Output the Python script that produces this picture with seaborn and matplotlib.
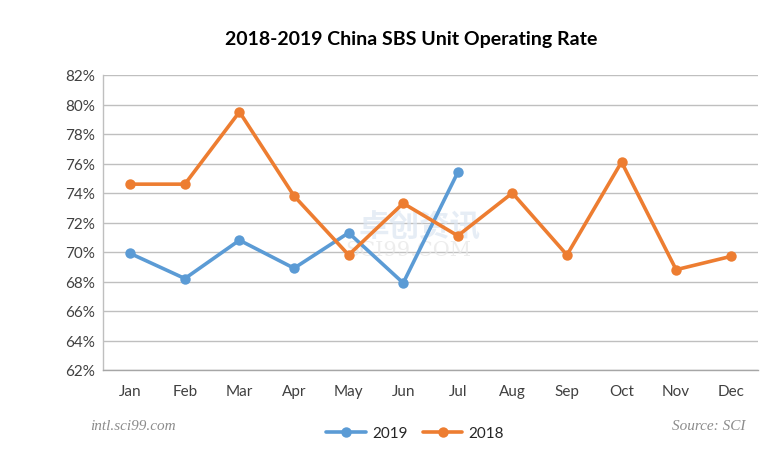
import matplotlib
matplotlib.use("Agg")
import matplotlib.pyplot as plt
import seaborn as sns
import pandas as pd
import numpy as np
from matplotlib.ticker import FuncFormatter
from matplotlib.lines import Line2D

months = ["Jan", "Feb", "Mar", "Apr", "May", "Jun", "Jul", "Aug", "Sep", "Oct", "Nov", "Dec"]
rate_2019 = [69.9, 68.2, 70.8, 68.9, 71.3, 67.9, 75.4]
rate_2018 = [74.6, 74.6, 79.5, 73.8, 69.8, 73.3, 71.1, 74.0, 69.8, 76.1, 68.8, 69.7]
y_ticks = [62, 64, 66, 68, 70, 72, 74, 76, 78, 80, 82]

rows = []
for i, v in enumerate(rate_2019):
    rows.append({"month": months[i], "idx": i, "rate": v, "year": "2019"})
for i, v in enumerate(rate_2018):
    rows.append({"month": months[i], "idx": i, "rate": v, "year": "2018"})
df = pd.DataFrame(rows)

sns.set_theme(style="white")
plt.rcParams["font.family"] = ["Lato", "DejaVu Sans"]

fig = plt.figure(figsize=(7.73, 4.56), dpi=100)
ax = fig.add_axes([103 / 773, 1 - 371 / 456, (758 - 103) / 773, (371 - 76) / 456])

palette = {"2019": "#5B9BD5", "2018": "#ED7D31"}
sns.lineplot(data=df, x="idx", y="rate", hue="year", hue_order=["2019", "2018"],
             palette=palette, marker="o", markersize=7.5, markeredgewidth=0,
             linewidth=2.6, ax=ax, legend=False, zorder=3)

ax.set_xlim(-0.5, 11.5)
ax.set_ylim(62, 82)
ax.set_yticks(y_ticks)
ax.yaxis.set_major_formatter(FuncFormatter(lambda v, p: f"{int(v)}%"))
ax.set_xticks(range(12))
ax.set_xticklabels(months)
ax.set_xticks(np.arange(-0.5, 12, 1), minor=True)
ax.tick_params(axis="x", which="major", length=0, pad=10, labelsize=11, colors="#404040")
ax.tick_params(axis="x", which="minor", length=5, color="#A6A6A6", width=1, direction="out")
ax.tick_params(axis="y", which="major", length=0, pad=6, labelsize=11, colors="#404040")
ax.set_xlabel("")
ax.set_ylabel("")
ax.grid(axis="y", color="#BFBFBF", linewidth=1)
ax.set_axisbelow(True)
for s in ["top", "right"]:
    ax.spines[s].set_visible(False)
ax.spines["left"].set_color("#BFBFBF")
ax.spines["bottom"].set_color("#A6A6A6")
ax.spines["left"].set_linewidth(1)
ax.spines["bottom"].set_linewidth(1)

# faint watermark
ax.text(0.39, 0.49, "卓创资讯", transform=ax.transAxes, fontsize=22, color="#DCE6F2",
        ha="left", va="center", family=["Noto Sans CJK SC", "DejaVu Sans"], zorder=1, alpha=0.7,
        fontweight="bold")
ax.text(0.37, 0.41, "SCI99.COM", transform=ax.transAxes, fontsize=15, color="#E6E6E6",
        ha="left", va="center", family=["DejaVu Serif"], zorder=1, alpha=0.7)

fig.text(411 / 773, 1 - 40 / 456, "2018-2019 China SBS Unit Operating Rate",
         ha="center", va="center", fontsize=14, fontweight="bold", color="#000000")

handles = [Line2D([], [], color=palette["2019"], marker="o", markersize=7.5, linewidth=2.6, markeredgewidth=0),
           Line2D([], [], color=palette["2018"], marker="o", markersize=7.5, linewidth=2.6, markeredgewidth=0)]
fig.legend(handles, ["2019", "2018"], loc="center", bbox_to_anchor=(415 / 773, 1 - 434 / 456),
           ncol=2, frameon=False, fontsize=11, handlelength=2.6, columnspacing=1.0, handletextpad=0.4)

fig.text(90 / 773, 1 - 427 / 456, "intl.sci99.com", ha="left", va="center", fontsize=11,
         fontstyle="italic", color="#8C8C8C", family=["Liberation Serif", "DejaVu Serif"])
fig.text(745 / 773, 1 - 427 / 456, "Source: SCI", ha="right", va="center", fontsize=11,
         fontstyle="italic", color="#8C8C8C", family=["Liberation Serif", "DejaVu Serif"])

fig.savefig("out.png", dpi=100)
